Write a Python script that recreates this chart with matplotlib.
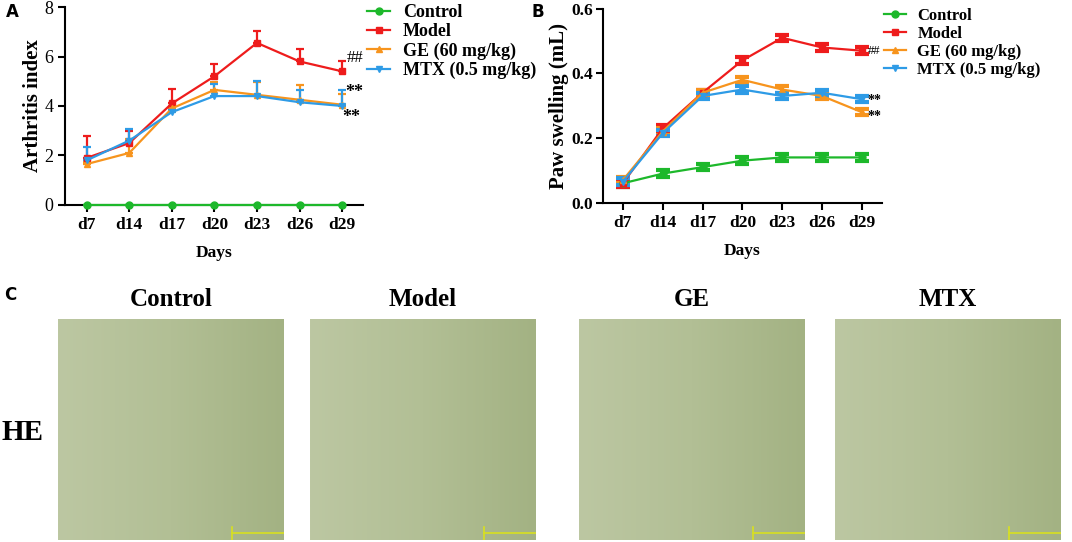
import numpy as np
import matplotlib.pyplot as plt

# ---- data ----
days = ["d7", "d14", "d17", "d20", "d23", "d26", "d29"]
groups = ["Control", "Model", "GE (60 mg/kg)", "MTX (0.5 mg/kg)"]

# Panel A: arthritis index (mean, upper error)
ai_control = [0, 0, 0, 0, 0, 0, 0]
ai_control_err = [0, 0, 0, 0, 0, 0, 0]
ai_model = [1.9, 2.5, 4.1, 5.2, 6.55, 5.8, 5.4]
ai_model_err = [0.9, 0.5, 0.6, 0.5, 0.5, 0.5, 0.4]
ai_ge = [1.65, 2.1, 3.9, 4.65, 4.45, 4.25, 4.05]
ai_ge_err = [0.1, 0.55, 0.1, 0.3, 0.5, 0.6, 0.45]
ai_mtx = [1.8, 2.6, 3.75, 4.4, 4.4, 4.15, 4.0]
ai_mtx_err = [0.55, 0.45, 0.1, 0.5, 0.6, 0.5, 0.65]

# Panel B: paw swelling (mean, error)
ps_control = [0.06, 0.09, 0.11, 0.13, 0.14, 0.14, 0.14]
ps_model = [0.06, 0.23, 0.34, 0.44, 0.51, 0.48, 0.47]
ps_ge = [0.07, 0.22, 0.34, 0.38, 0.35, 0.33, 0.28]
ps_mtx = [0.065, 0.215, 0.33, 0.35, 0.33, 0.34, 0.32]
ps_err = [0.01, 0.01, 0.01, 0.01, 0.01, 0.01, 0.01]

colors = ["#1DB82B", "#EE1C1C", "#F7941D", "#2E9BE6"]
markers = ["o", "s", "^", "v"]

he_titles = ["Control", "Model", "GE", "MTX"]

serif = ["Liberation Serif", "DejaVu Serif"]
plt.rcParams["font.family"] = serif
plt.rcParams["font.weight"] = "bold"

W, H = 1072, 542
fig = plt.figure(figsize=(W / 100, H / 100), dpi=100)


def style_axes(ax):
    for side in ["top", "right"]:
        ax.spines[side].set_visible(False)
    for side in ["left", "bottom"]:
        ax.spines[side].set_linewidth(1.5)
    ax.tick_params(width=1.5, length=5, labelsize=12.5)
    ax.set_xlim(-0.5, 6.5)
    ax.set_xticks(range(len(days)))
    ax.set_xticklabels(days, fontweight="bold")
    ax.set_xlabel("Days", fontsize=12.5, fontweight="bold", labelpad=9)


def add_legend(handles, x0, y0, size):
    fig.legend(handles, groups, loc="upper left",
               bbox_to_anchor=(x0 / W, 1 - y0 / H), frameon=False,
               borderpad=0, borderaxespad=0, handlelength=1.3,
               handletextpad=0.7, labelspacing=0.12,
               prop={"weight": "bold", "size": size})


x = np.arange(len(days))

# ---- panel A ----
axA = fig.add_axes([0.061, 0.622, 0.278, 0.365])
seriesA = [(ai_control, ai_control_err), (ai_model, ai_model_err),
           (ai_ge, ai_ge_err), (ai_mtx, ai_mtx_err)]
handlesA = []
for (vals, err), c, m in zip(seriesA, colors, markers):
    eb = axA.errorbar(x, vals, yerr=[np.zeros(len(err)), err], color=c,
                      marker=m, markersize=5, linewidth=1.6, capsize=3,
                      capthick=1.6, elinewidth=1.6, clip_on=False, zorder=3)
    handlesA.append(eb[0])
style_axes(axA)
axA.set_ylim(0, 8)
axA.set_yticks([0, 2, 4, 6, 8])
axA.set_yticklabels(["0", "2", "4", "6", "8"], fontweight="normal", fontsize=13)
axA.set_ylabel("Arthritis index", fontsize=15, fontweight="bold", labelpad=1)
axA.text(6.1, ai_model[-1] + 0.55, "##", fontsize=12, va="center",
         fontweight="normal")
axA.text(6.08, ai_ge[-1] + 0.5, "**", fontsize=13, va="center")
axA.text(6.0, ai_mtx[-1] - 0.45, "**", fontsize=13, va="center")
add_legend(handlesA, 367, 4, 13)

# ---- panel B ----
axB = fig.add_axes([0.5625, 0.626, 0.26, 0.358])
seriesB = [ps_control, ps_model, ps_ge, ps_mtx]
handlesB = []
for vals, c, m in zip(seriesB, colors, markers):
    eb = axB.errorbar(x, vals, yerr=ps_err, color=c, marker=m, markersize=5,
                      linewidth=1.6, capsize=5, capthick=3, elinewidth=3,
                      clip_on=False, zorder=3)
    handlesB.append(eb[0])
style_axes(axB)
axB.tick_params(axis="y", pad=2)
axB.set_ylim(0, 0.6)
axB.set_yticks([0.0, 0.2, 0.4, 0.6])
axB.set_yticklabels(["0.0", "0.2", "0.4", "0.6"], fontweight="bold", fontsize=12.5)
axB.set_ylabel("Paw swelling (mL)", fontsize=15, fontweight="bold", labelpad=2)
axB.text(6.15, ps_model[-1], "##", fontsize=9, va="center", fontweight="normal")
axB.text(6.15, ps_mtx[-1] - 0.004, "**", fontsize=10, va="center")
axB.text(6.15, ps_ge[-1] - 0.012, "**", fontsize=10, va="center")
add_legend(handlesB, 884, 8, 12)

# ---- panel C: histology placeholders ----
img_left = [58, 310, 579, 835]
img_w = 226
img_top = 319
img_h = 221
grad = np.linspace(0, 1, 200)[None, :]
cmap = plt.matplotlib.colors.LinearSegmentedColormap.from_list(
    "he", ["#BCC7A2", "#B2BF95", "#A3B283"])
for left, title in zip(img_left, he_titles):
    ax = fig.add_axes([left / W, (H - img_top - img_h) / H, img_w / W, img_h / H])
    ax.imshow(grad, aspect="auto", cmap=cmap, extent=(0, 1, 0, 1))
    ax.plot([0.77, 1.0], [0.03, 0.03], color="#D8E020", linewidth=1.2)
    ax.plot([0.77, 0.77], [0.0, 0.06], color="#D8E020", linewidth=1.2)
    ax.set_xlim(0, 1)
    ax.set_ylim(0, 1)
    ax.axis("off")
    fig.text((left + img_w / 2) / W, 1 - 300 / H, title, ha="center",
             va="center", fontsize=18, fontweight="bold")

fig.text(22 / W, 1 - 432 / H, "HE", ha="center", va="center",
         fontsize=21, fontweight="bold")

for lab, px, py in [("A", 12, 12), ("B", 538, 12), ("C", 10, 295)]:
    fig.text(px / W, 1 - py / H, lab, ha="center", va="center",
             fontsize=12, fontweight="bold", family="DejaVu Sans")

fig.savefig("out.png", dpi=100)
